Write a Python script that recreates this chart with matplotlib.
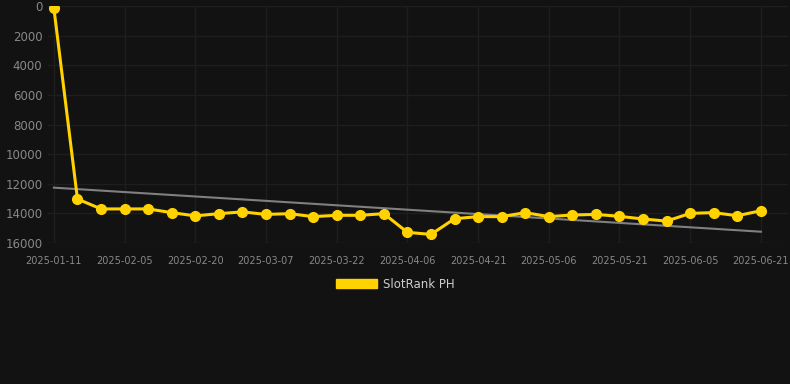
import matplotlib.pyplot as plt
from matplotlib.patches import Patch
import numpy as np

tick_labels = ["2025-01-11", "2025-02-05", "2025-02-20", "2025-03-07", "2025-03-22",
               "2025-04-06", "2025-04-21", "2025-05-06", "2025-05-21", "2025-06-05",
               "2025-06-21"]
rank = [150, 13030, 13700, 13700, 13700, 13950, 14170, 14020, 13900, 14070,
        14020, 14220, 14130, 14130, 14020, 15280, 15420, 14360, 14220, 14220,
        13950, 14220, 14110, 14070, 14200, 14380, 14520, 14000, 13950, 14160,
        13820]

bg = "#121212"
x = np.arange(len(rank))

fig = plt.figure(figsize=(7.9, 3.84), dpi=100, facecolor=bg)
ax = fig.add_axes([48 / 790, 1 - 243 / 384, 740 / 790, 237 / 384])
ax.set_facecolor(bg)

# trend line
k, b = np.polyfit(x, rank, 1)
ax.plot(x, k * x + b + 80, color="#808080", lw=1.5, zorder=2)

ax.plot(x, rank, color="#ffd200", lw=2.2, marker="o", ms=7, zorder=3)

ax.set_ylim(16000, 0)
ax.set_xlim(-0.25, 31.15)
ax.set_yticks(range(0, 16001, 2000))
ax.set_xticks(x[::3])
ax.set_xticklabels(tick_labels)

ax.grid(True, color="#1e1e1e", lw=1)
ax.set_axisbelow(True)
for s in ax.spines.values():
    s.set_visible(False)
ax.tick_params(axis="both", length=0, colors="#888888")
ax.tick_params(axis="y", labelsize=8.5, pad=4)
ax.tick_params(axis="x", labelsize=7, pad=9)

fig.legend(handles=[Patch(facecolor="#ffd200", edgecolor="#ffd200")],
           labels=["SlotRank PH"], loc="center", bbox_to_anchor=(0.5, 1 - 284 / 384),
           frameon=False, labelcolor="#cccccc", fontsize=8.5,
           handlelength=3.5, handleheight=0.9, handletextpad=0.5)

fig.savefig("out.png", facecolor=bg)
